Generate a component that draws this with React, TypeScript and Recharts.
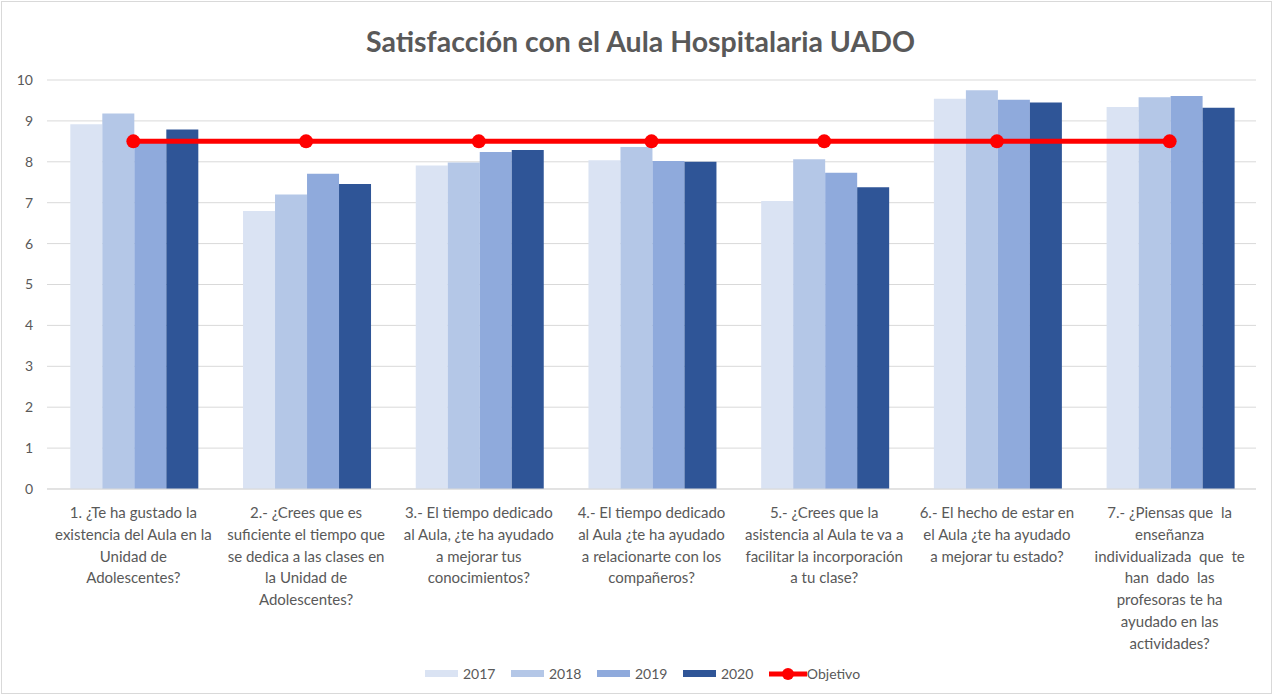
import React from "react";
import {
  ComposedChart,
  Bar,
  Line,
  XAxis,
  YAxis,
  CartesianGrid,
} from "recharts";

const categories = [
  "1. ¿Te ha gustado la\nexistencia del Aula en la\nUnidad de\nAdolescentes?",
  "2.- ¿Crees que es\nsuficiente el tiempo que\nse dedica a las clases en\nla Unidad de\nAdolescentes?",
  "3.- El tiempo dedicado\nal Aula, ¿te ha ayudado\na mejorar tus\nconocimientos?",
  "4.- El tiempo dedicado\nal Aula ¿te ha ayudado\na relacionarte con los\ncompañeros?",
  "5.- ¿Crees que la\nasistencia al Aula te va a\nfacilitar la incorporación\na tu clase?",
  "6.- El hecho de estar en\nel Aula ¿te ha ayudado\na mejorar tu estado?",
  "7.- ¿Piensas que  la\nenseñanza\nindividualizada  que  te\nhan  dado  las\nprofesoras te ha\nayudado en las\nactividades?",
];

const v2017 = [8.92, 6.8, 7.91, 8.04, 7.04, 9.54, 9.34];
const v2018 = [9.18, 7.2, 7.98, 8.36, 8.06, 9.75, 9.58];
const v2019 = [8.5, 7.71, 8.24, 8.02, 7.73, 9.52, 9.61];
const v2020 = [8.79, 7.46, 8.29, 8.0, 7.38, 9.45, 9.32];
const objetivo = [8.5, 8.5, 8.5, 8.5, 8.5, 8.5, 8.5];

const yTicks = [0, 1, 2, 3, 4, 5, 6, 7, 8, 9, 10];

const seriesNames = ["2017", "2018", "2019", "2020"];
const colors = ["#DAE3F3", "#B4C7E7", "#8FAADC", "#2F5597"];
const red = "#FF0000";

const data = categories.map((c, i) => ({
  cat: c,
  "2017": v2017[i],
  "2018": v2018[i],
  "2019": v2019[i],
  "2020": v2020[i],
  Objetivo: objetivo[i],
}));

const FONT = "Lato, 'Open Sans', sans-serif";

const XTick = (props: any) => {
  const { x, y, payload } = props;
  const lines = String(payload.value).split("\n");
  return (
    <text
      x={x}
      y={y}
      textAnchor="middle"
      fill="#595959"
      fontSize={15}
      fontFamily={FONT}
    >
      {lines.map((l, i) => (
        <tspan key={i} x={x} dy={i === 0 ? 21 : 21.8} style={{ whiteSpace: "pre" }}>
          {l}
        </tspan>
      ))}
    </text>
  );
};

export default function App() {
  return (
    <div
      style={{
        position: "absolute",
        left: 0,
        top: 0,
        width: 1273,
        height: 695,
        background: "#fff",
        fontFamily: FONT,
      }}
    >
      <div
        style={{
          position: "absolute",
          left: 1,
          top: 1,
          width: 1269,
          height: 691,
          border: "1px solid #D9D9D9",
        }}
      />
      <div
        style={{
          position: "absolute",
          left: 0,
          top: 23,
          width: 1281,
          textAlign: "center",
          fontSize: 28.5,
          fontWeight: 700,
          color: "#595959",
          fontFamily: FONT,
          lineHeight: "36px",
        }}
      >
        Satisfacción con el Aula Hospitalaria UADO
      </div>
      <div style={{ position: "absolute", left: 0, top: 0 }}>
        <ComposedChart
          width={1273}
          height={695}
          data={data}
          margin={{ top: 80, right: 17, bottom: 0, left: 0 }}
          barCategoryGap="13.5%"
          barGap={0}
        >
          <CartesianGrid vertical={false} stroke="#D9D9D9" strokeWidth={1} />
          <XAxis
            dataKey="cat"
            interval={0}
            height={206}
            tickLine={false}
            axisLine={{ stroke: "#D9D9D9" }}
            tick={<XTick />}
          />
          <YAxis
            width={47}
            domain={[0, 10]}
            ticks={yTicks}
            tickLine={false}
            axisLine={false}
            tickSize={0}
            tickMargin={14}
            tick={{ fill: "#595959", fontSize: 14, fontFamily: FONT }}
          />
          {seriesNames.map((s, i) => (
            <Bar
              key={s}
              dataKey={s}
              fill={colors[i]}
              isAnimationActive={false}
            />
          ))}
          <Line
            dataKey="Objetivo"
            stroke={red}
            strokeWidth={5}
            dot={{ r: 7, fill: red, stroke: red, strokeWidth: 0 }}
            activeDot={false}
            isAnimationActive={false}
          />
        </ComposedChart>
      </div>
      <div
        style={{
          position: "absolute",
          left: 6,
          top: 665,
          width: 1273,
          display: "flex",
          justifyContent: "center",
          alignItems: "center",
          fontSize: 14,
          color: "#595959",
          fontFamily: FONT,
        }}
      >
        {seriesNames.map((s, i) => (
          <div key={s} style={{ display: "flex", alignItems: "center", marginRight: 15.5 }}>
            <div style={{ width: 33, height: 7, background: colors[i], marginRight: 5 }} />
            <span>{s}</span>
          </div>
        ))}
        <div style={{ display: "flex", alignItems: "center" }}>
          <svg width={38} height={14}>
            <line x1={0} y1={7} x2={38} y2={7} stroke={red} strokeWidth={5} />
            <circle cx={19} cy={7} r={6} fill={red} />
          </svg>
          <span>Objetivo</span>
        </div>
      </div>
    </div>
  );
}
